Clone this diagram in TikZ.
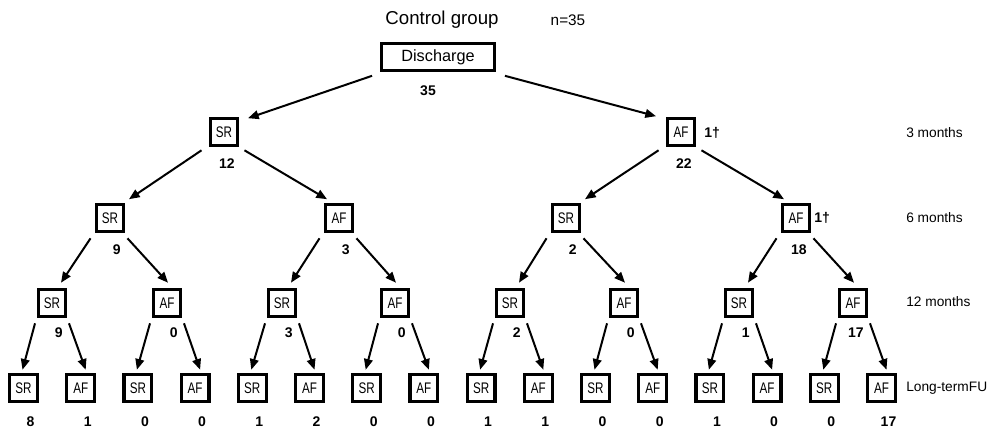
\documentclass[tikz,border=0pt]{standalone}
\usepackage{fontspec}
\usepackage{graphicx}
\setmainfont{Liberation Sans}
\usetikzlibrary{arrows.meta}
% narrow lettering used inside the state boxes
\newcommand{\narrowtxt}[1]{\scalebox{0.76}[1]{#1}}
\begin{document}
\begin{tikzpicture}[x=0.75pt,y=-0.75pt,
  stbox/.style={draw,line width=2.4pt,minimum width=20.8pt,minimum height=19.8pt,
    inner sep=0pt,font=\fontsize{11.5}{13}\selectfont},
  rootbox/.style={stbox,minimum width=84.5pt,font=\fontsize{12.2}{14}\selectfont},
  num/.style={font=\fontsize{10.5}{12}\bfseries\selectfont,inner sep=0pt},
  side/.style={font=\fontsize{10.3}{12}\selectfont,anchor=west,inner sep=0pt},
  arr/.style={-{Triangle[length=8pt,width=6.5pt]},line width=1.5pt}]

% canvas
\path[use as bounding box,fill=white] (0,0) rectangle (995,430);

% title
\node[font=\fontsize{14}{16}\selectfont] (title) at (442,20) {Control group};
\node[font=\fontsize{11.5}{13}\selectfont] (ncount) at (568,20) {n=35};

% discharge
\node[rootbox] (r) at (438,57) {Discharge};
\node[num] (rn) at (428,91) {35};

% 3 months
\node[stbox] (s1) at (224,132) {\narrowtxt{SR}};
\node[stbox] (f1) at (681,132) {\narrowtxt{AF}};
\node[num,anchor=east] (s1n) at (235,164) {12};
\node[num,anchor=east] (f1n) at (692,164) {22};
\node[num,anchor=west] (f1d) at (704,133) {1†};

% 6 months
\node[stbox] (n21) at (110,218) {\narrowtxt{SR}};
\node[stbox] (n22) at (339,218) {\narrowtxt{AF}};
\node[stbox] (n23) at (566,218) {\narrowtxt{SR}};
\node[stbox] (n24) at (796,218) {\narrowtxt{AF}};
\node[num,anchor=east] (n21n) at (121,250) {9};
\node[num,anchor=east] (n22n) at (350,250) {3};
\node[num,anchor=east] (n23n) at (577,250) {2};
\node[num,anchor=east] (n24n) at (807,250) {18};
\node[num,anchor=west] (n24d) at (814,218) {1†};

% 12 months
\foreach \x/\t/\v [count=\i] in {52/SR/9,167/AF/0,282/SR/3,395/AF/0,510/SR/2,624/AF/0,739/SR/1,853/AF/17}{
  \node[stbox] (n3\i) at (\x,303) {\narrowtxt{\t}};
  \node[num,anchor=east] (n3\i n) at (\x+11,333) {\v};
}

% long-term follow-up
\foreach \t/\v [count=\i] in {SR/8,AF/1,SR/0,AF/0,SR/1,AF/2,SR/0,AF/0,SR/1,AF/1,SR/0,AF/0,SR/1,AF/0,SR/0,AF/17}{
  \node[stbox] (n4\i) at ({23.5+57.2*(\i-1)},388) {\narrowtxt{\t}};
  \node[num] (n4\i n) at ({30.5+57.2*(\i-1)},422) {\v};
}

% time-point labels
\node[side] (t1) at (906,133) {3 months};
\node[side] (t2) at (906,218) {6 months};
\node[side] (t3) at (906,302) {12 months};
\node[side] (t4) at (906,388) {Long-termFU};

% discharge -> 3 months
\draw[arr] ([shift={(-8,4)}]r.south west) -- ([shift={(24,1)}]s1.north);
\draw[arr] ([shift={(9,4)}]r.south east) -- ([shift={(-25,-1)}]f1.north);

% 3 months -> 6 months
\foreach \p/\a/\b in {s1/n21/n22,f1/n23/n24}{
  \draw[arr] ([shift={(-7,3.5)}]\p.south west) -- ([shift={(19,-4)}]\a.north);
  \draw[arr] ([shift={(5,3.5)}]\p.south east) -- ([shift={(-12,-4)}]\b.north);
}

% 6 months -> 12 months
\foreach \k [evaluate=\k as \a using int(2*\k-1), evaluate=\k as \b using int(2*\k)] in {1,...,4}{
  \draw[arr] ([shift={(-4,5.5)}]n2\k.south west) -- ([shift={(9,-5.5)}]n3\a.north);
  \draw[arr] ([shift={(2,5.5)}]n2\k.south east) -- ([shift={(1,-5.5)}]n3\b.north);
}

% 12 months -> long-term follow-up
\foreach \k [evaluate=\k as \a using int(2*\k-1), evaluate=\k as \b using int(2*\k)] in {1,...,8}{
  \draw[arr] ([shift={(-1.5,5.5)}]n3\k.south west) -- ([shift={(-1,-3.5)}]n4\a.north);
  \draw[arr] ([shift={(1.5,5.5)}]n3\k.south east) -- ([shift={(5,-3.5)}]n4\b.north);
}
\end{tikzpicture}
\end{document}
